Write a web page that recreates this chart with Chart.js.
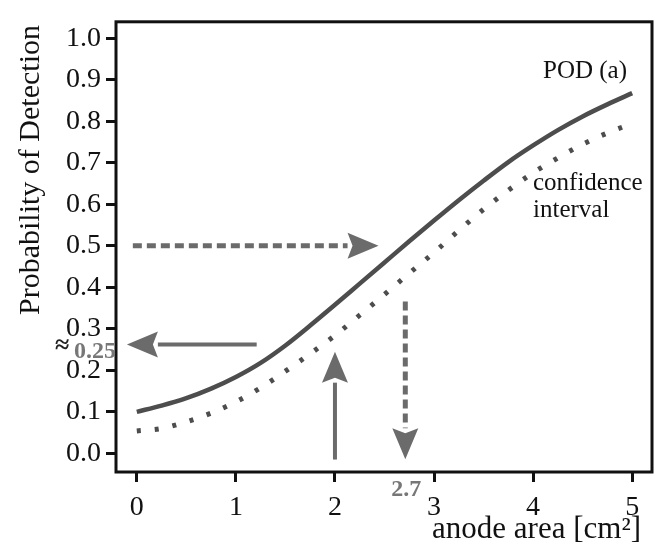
<!DOCTYPE html>
<html>
<head>
<meta charset="utf-8">
<script src="https://cdn.jsdelivr.net/npm/chart.js@4/dist/chart.umd.min.js"></script>
<style>
  html, body { margin: 0; padding: 0; background: #fff; }
  #wrap { width: 656px; height: 547px; }
</style>
</head>
<body>
<div id="wrap"><canvas id="pod"></canvas></div>
<script>
// POD curve and its lower confidence bound, read at quarter-unit steps
const area = [0, 0.25, 0.5, 0.75, 1, 1.25, 1.5, 1.75, 2, 2.25, 2.5, 2.75, 3, 3.25, 3.5, 3.75, 4, 4.25, 4.5, 4.75, 5];
const pod = [0.100, 0.115, 0.133, 0.156, 0.184, 0.218, 0.260, 0.308, 0.358, 0.409, 0.460, 0.511, 0.561, 0.610, 0.657, 0.702, 0.742, 0.779, 0.812, 0.841, 0.868];
const podLower = [0.054, 0.060, 0.076, 0.097, 0.124, 0.158, 0.198, 0.240, 0.284, 0.333, 0.383, 0.434, 0.484, 0.537, 0.588, 0.634, 0.676, 0.712, 0.745, 0.772, 0.795];

const xTicks = [0, 1, 2, 3, 4, 5];
const yTicks = [0, 0.1, 0.2, 0.3, 0.4, 0.5, 0.6, 0.7, 0.8, 0.9, 1.0];

// reading arrows (data coords): start, tip, dashed?
const arrowFrom = [[-0.04, 0.5], [1.21, 0.262], [2.0, -0.015], [2.71, 0.366]];
const arrowTo = [[2.44, 0.5], [-0.1, 0.262], [2.0, 0.245], [2.71, -0.014]];
const arrowDashed = [true, false, false, true];

const SERIF = "'Liberation Serif', 'DejaVu Serif', serif";
const CURVE = '#4d4d4d';
const ARROW = '#6b6b6b';

const toPts = (ys) => area.map((x, i) => ({x: x, y: ys[i]}));

const annotations = {
  id: 'annotations',
  afterDatasetsDraw(chart) {
    const {ctx, chartArea: a, scales: {x, y}} = chart;
    ctx.save();

    // frame around the plot
    ctx.strokeStyle = '#111';
    ctx.lineWidth = 3;
    ctx.strokeRect(a.left, a.top, a.right - a.left, a.bottom - a.top);

    // arrows
    for (let i = 0; i < arrowFrom.length; i++) {
      const x0 = x.getPixelForValue(arrowFrom[i][0]);
      const y0 = y.getPixelForValue(arrowFrom[i][1]);
      const x1 = x.getPixelForValue(arrowTo[i][0]);
      const y1 = y.getPixelForValue(arrowTo[i][1]);
      const ang = Math.atan2(y1 - y0, x1 - x0);
      const headLen = 31, headHalf = 13;
      const bx = x1 - headLen * Math.cos(ang);
      const by = y1 - headLen * Math.sin(ang);
      ctx.strokeStyle = ARROW;
      ctx.fillStyle = ARROW;
      ctx.lineWidth = arrowDashed[i] ? 5 : 4;
      ctx.setLineDash(arrowDashed[i] ? [9, 5] : []);
      ctx.beginPath();
      ctx.moveTo(x0, y0);
      ctx.lineTo(bx, by);
      ctx.stroke();
      ctx.setLineDash([]);
      ctx.beginPath();
      ctx.moveTo(x1, y1);
      ctx.lineTo(bx - headHalf * Math.sin(ang), by + headHalf * Math.cos(ang));
      ctx.lineTo(bx + 5 * Math.cos(ang), by + 5 * Math.sin(ang));
      ctx.lineTo(bx + headHalf * Math.sin(ang), by - headHalf * Math.cos(ang));
      ctx.closePath();
      ctx.fill();
    }

    // curve labels
    ctx.fillStyle = '#111';
    ctx.textBaseline = 'alphabetic';
    ctx.textAlign = 'left';
    ctx.font = '25px ' + SERIF;
    ctx.fillText('POD (a)', 543, 78);
    ctx.fillText('confidence', 533, 190);
    ctx.fillText('interval', 533, 217);

    // values
    ctx.textBaseline = 'middle';
    ctx.font = 'bold 24px ' + SERIF;
    ctx.fillStyle = '#777';
    ctx.textAlign = 'right';
    ctx.fillText('0.25', 116, y.getPixelForValue(0.25) + 2);
    ctx.fillStyle = '#222';
    ctx.font = 'bold 26px ' + SERIF;
    ctx.textAlign = 'left';
    ctx.fillText('\u2248', 55, y.getPixelForValue(0.25) - 3);
    ctx.fillStyle = '#777';
    ctx.font = 'bold 24px ' + SERIF;
    ctx.textAlign = 'center';
    ctx.fillText('2.7', x.getPixelForValue(2.72), 490);

    // axis titles
    ctx.fillStyle = '#111';
    ctx.textBaseline = 'alphabetic';
    ctx.font = '31px ' + SERIF;
    ctx.textAlign = 'right';
    ctx.fillText('anode area [cm\u00b2]', 641, 538);
    ctx.textBaseline = 'middle';
    ctx.translate(31, 170);
    ctx.rotate(-Math.PI / 2);
    ctx.textAlign = 'center';
    ctx.font = '30px ' + SERIF;
    ctx.fillText('Probability of Detection', 0, 0);

    ctx.restore();
  }
};

new Chart(document.getElementById('pod'), {
  type: 'line',
  data: {
    datasets: [
      {
        label: 'POD (a)',
        data: toPts(pod),
        borderColor: CURVE,
        borderWidth: 4.5,
        pointRadius: 0,
        cubicInterpolationMode: 'monotone',
        fill: false
      },
      {
        label: 'confidence interval',
        data: toPts(podLower),
        borderColor: CURVE,
        borderWidth: 5,
        borderDash: [4, 14],
        borderCapStyle: 'butt',
        pointRadius: 0,
        cubicInterpolationMode: 'monotone',
        fill: false
      }
    ]
  },
  options: {
    responsive: true,
    maintainAspectRatio: false,
    animation: false,
    layout: { padding: { top: 12, right: 4, left: 0, bottom: 0 } },
    plugins: { legend: { display: false }, tooltip: { enabled: false } },
    scales: {
      x: {
        type: 'linear',
        min: -0.21,
        max: 5.2,
        afterBuildTicks: (s) => { s.ticks = xTicks.map(v => ({value: v})); },
        afterFit: (s) => { s.height = 75; },
        grid: { display: true, drawOnChartArea: false, drawTicks: true, tickLength: 10, tickWidth: 3, tickColor: '#111' },
        border: { display: false },
        ticks: { color: '#111', padding: 9, maxRotation: 0, font: { family: SERIF, size: 28 } }
      },
      y: {
        type: 'linear',
        min: -0.045,
        max: 1.04,
        afterBuildTicks: (s) => { s.ticks = yTicks.map(v => ({value: v})); },
        afterFit: (s) => { s.width = 116; },
        grid: { display: true, drawOnChartArea: false, drawTicks: true, tickLength: 10, tickWidth: 3, tickColor: '#111' },
        border: { display: false },
        ticks: { color: '#111', padding: 5, font: { family: SERIF, size: 28 }, callback: (v) => v.toFixed(1) }
      }
    }
  },
  plugins: [annotations]
});
</script>
</body>
</html>
